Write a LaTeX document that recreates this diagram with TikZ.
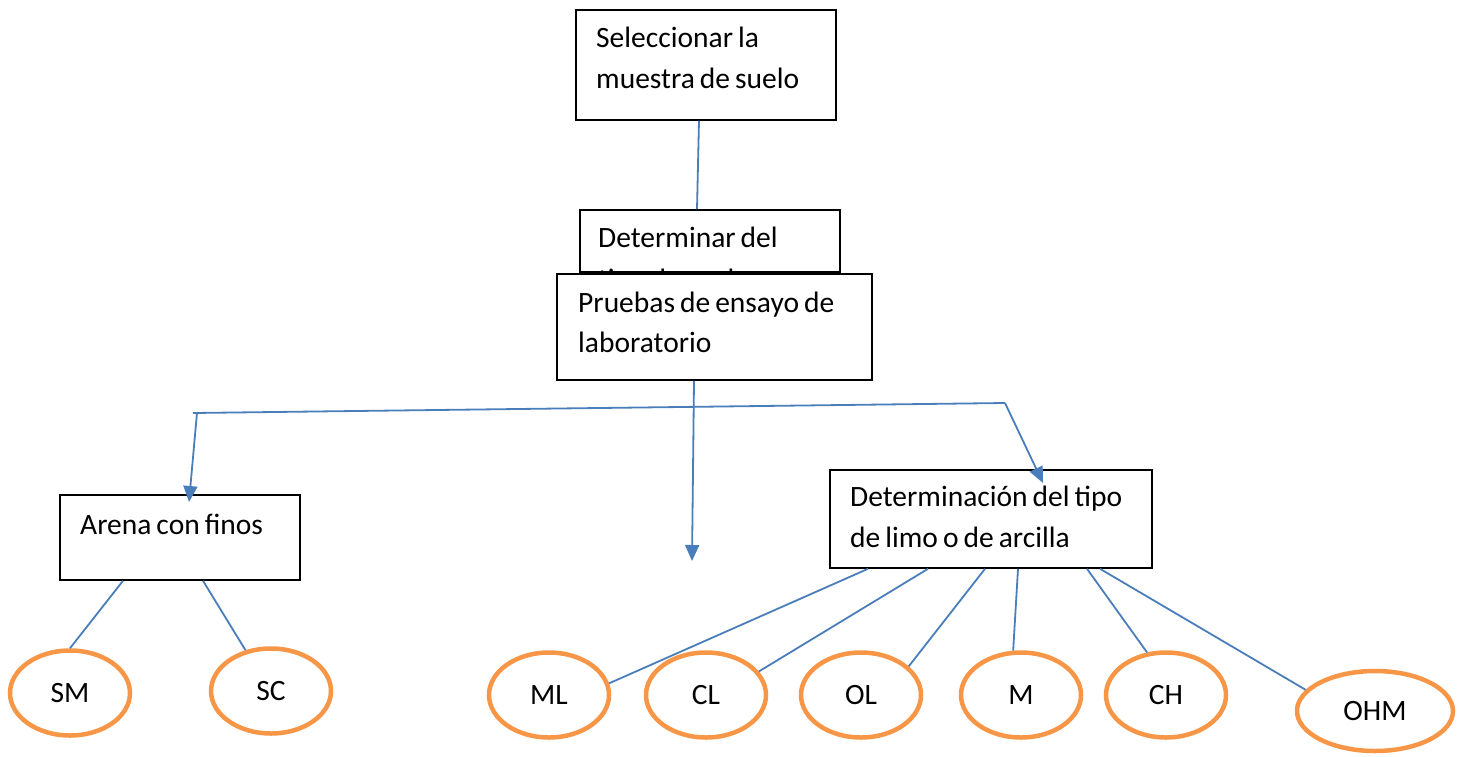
\documentclass[tikz,border=0pt]{standalone}
\usepackage{fontspec}
\setmainfont{Carlito}
\usetikzlibrary{arrows.meta,calc,shapes.geometric}
\definecolor{lineblue}{RGB}{74,126,187}
\definecolor{ellorange}{RGB}{247,150,70}
\newcommand{\diagfont}{\fontsize{29.5}{35}\selectfont\spaceskip=0.17em plus 0.05em\relax}
\tikzset{
  box/.style={draw=black,line width=1.6pt,fill=white,rectangle,inner sep=0pt},
  txt/.style={anchor=base west,inner sep=0pt,font=\diagfont},
  ell/.style={draw=ellorange,line width=4.5pt,ellipse,inner sep=0pt,minimum width=120pt,minimum height=85pt,font=\diagfont},
  conn/.style={draw=lineblue,line width=1.8pt},
  arr/.style={conn,-{Triangle[width=14pt,length=16pt]}}
}
\begin{document}
\begin{tikzpicture}[x=1pt,y=-1pt]
\useasboundingbox (0,0) rectangle (1457,756);
% box 1
\node[box,minimum width=260pt,minimum height=110pt] (b1) at (706,65) {};
\node[txt] (t1a) at (596,47) {Seleccionar la};
\node[txt] (t1b) at (596,88) {muestra de suelo};
% box 2 (partly hidden)
\node[box,minimum width=260pt,minimum height=62pt] (b2) at (710,241) {};
\node[txt] (t2a) at (598,247) {Determinar del};
\begin{scope}
\clip (b2.north west) rectangle (b2.south east);
\node[txt] (t2b) at (598,289) {tipo de suelo};
\end{scope}
\draw[conn] (b1.south -| 699,0) -- (b2.north -| 697,0);
% box 3
\node[box,minimum width=315pt,minimum height=106pt] (b3) at (714.5,327) {};
\node[txt] (t3a) at (578,312) {Pruebas de ensayo de};
\node[txt] (t3b) at (578,352) {laboratorio};
% boxes lower
\node[box,minimum width=240pt,minimum height=85pt] (b4) at (180,537.5) {};
\node[txt] (t4) at (80,534) {Arena con finos};
\node[box,minimum width=322pt,minimum height=98pt] (b5) at (991,519) {};
\node[txt] (t5a) at (850,506) {Determinación del tipo};
\node[txt] (t5b) at (850,547) {de limo o de arcilla};
% connectors from box 3
\coordinate (hl) at (193,413);
\coordinate (hla) at (197,412.9);
\coordinate (hr) at (1005,403);
\coordinate (mid) at (692,561);
\draw[conn] (hl) -- (hr);
\draw[arr] (hla) -- (189,502);
\draw[arr] (hr) -- (1043,483);
\draw[arr] (b3.south -| 694,0) -- (mid);
% ellipses
\node[ell] (sm) at (70,693) {SM};
\node[ell] (sc) at (271,691) {SC};
\node[ell] (ml) at (549,695) {ML};
\node[ell] (cl) at (706,695) {CL};
\node[ell] (ol) at (861,695) {OL};
\node[ell] (m) at (1021,695) {M};
\node[ell] (ch) at (1166,695) {CH};
\node[ell,minimum width=156pt,minimum height=80pt] (ohm) at (1375,711) {OHM};
% connectors to ellipses
\draw[conn] (b4.south -| 123,0) -- (sm.90);
\draw[conn] (b4.south -| 203,0) -- (sc.122);
\draw[conn] (b5.south -| 868,0) -- (ml.11);
\draw[conn] (b5.south -| 928,0) -- (cl.24);
\draw[conn] (b5.south -| 985,0) -- (ol.31);
\draw[conn] (b5.south -| 1018,0) -- (m.100);
\draw[conn] (b5.south -| 1087,0) -- (ch.114);
\draw[conn] (b5.south -| 1100,0) -- (ohm.163);
\end{tikzpicture}
\end{document}
